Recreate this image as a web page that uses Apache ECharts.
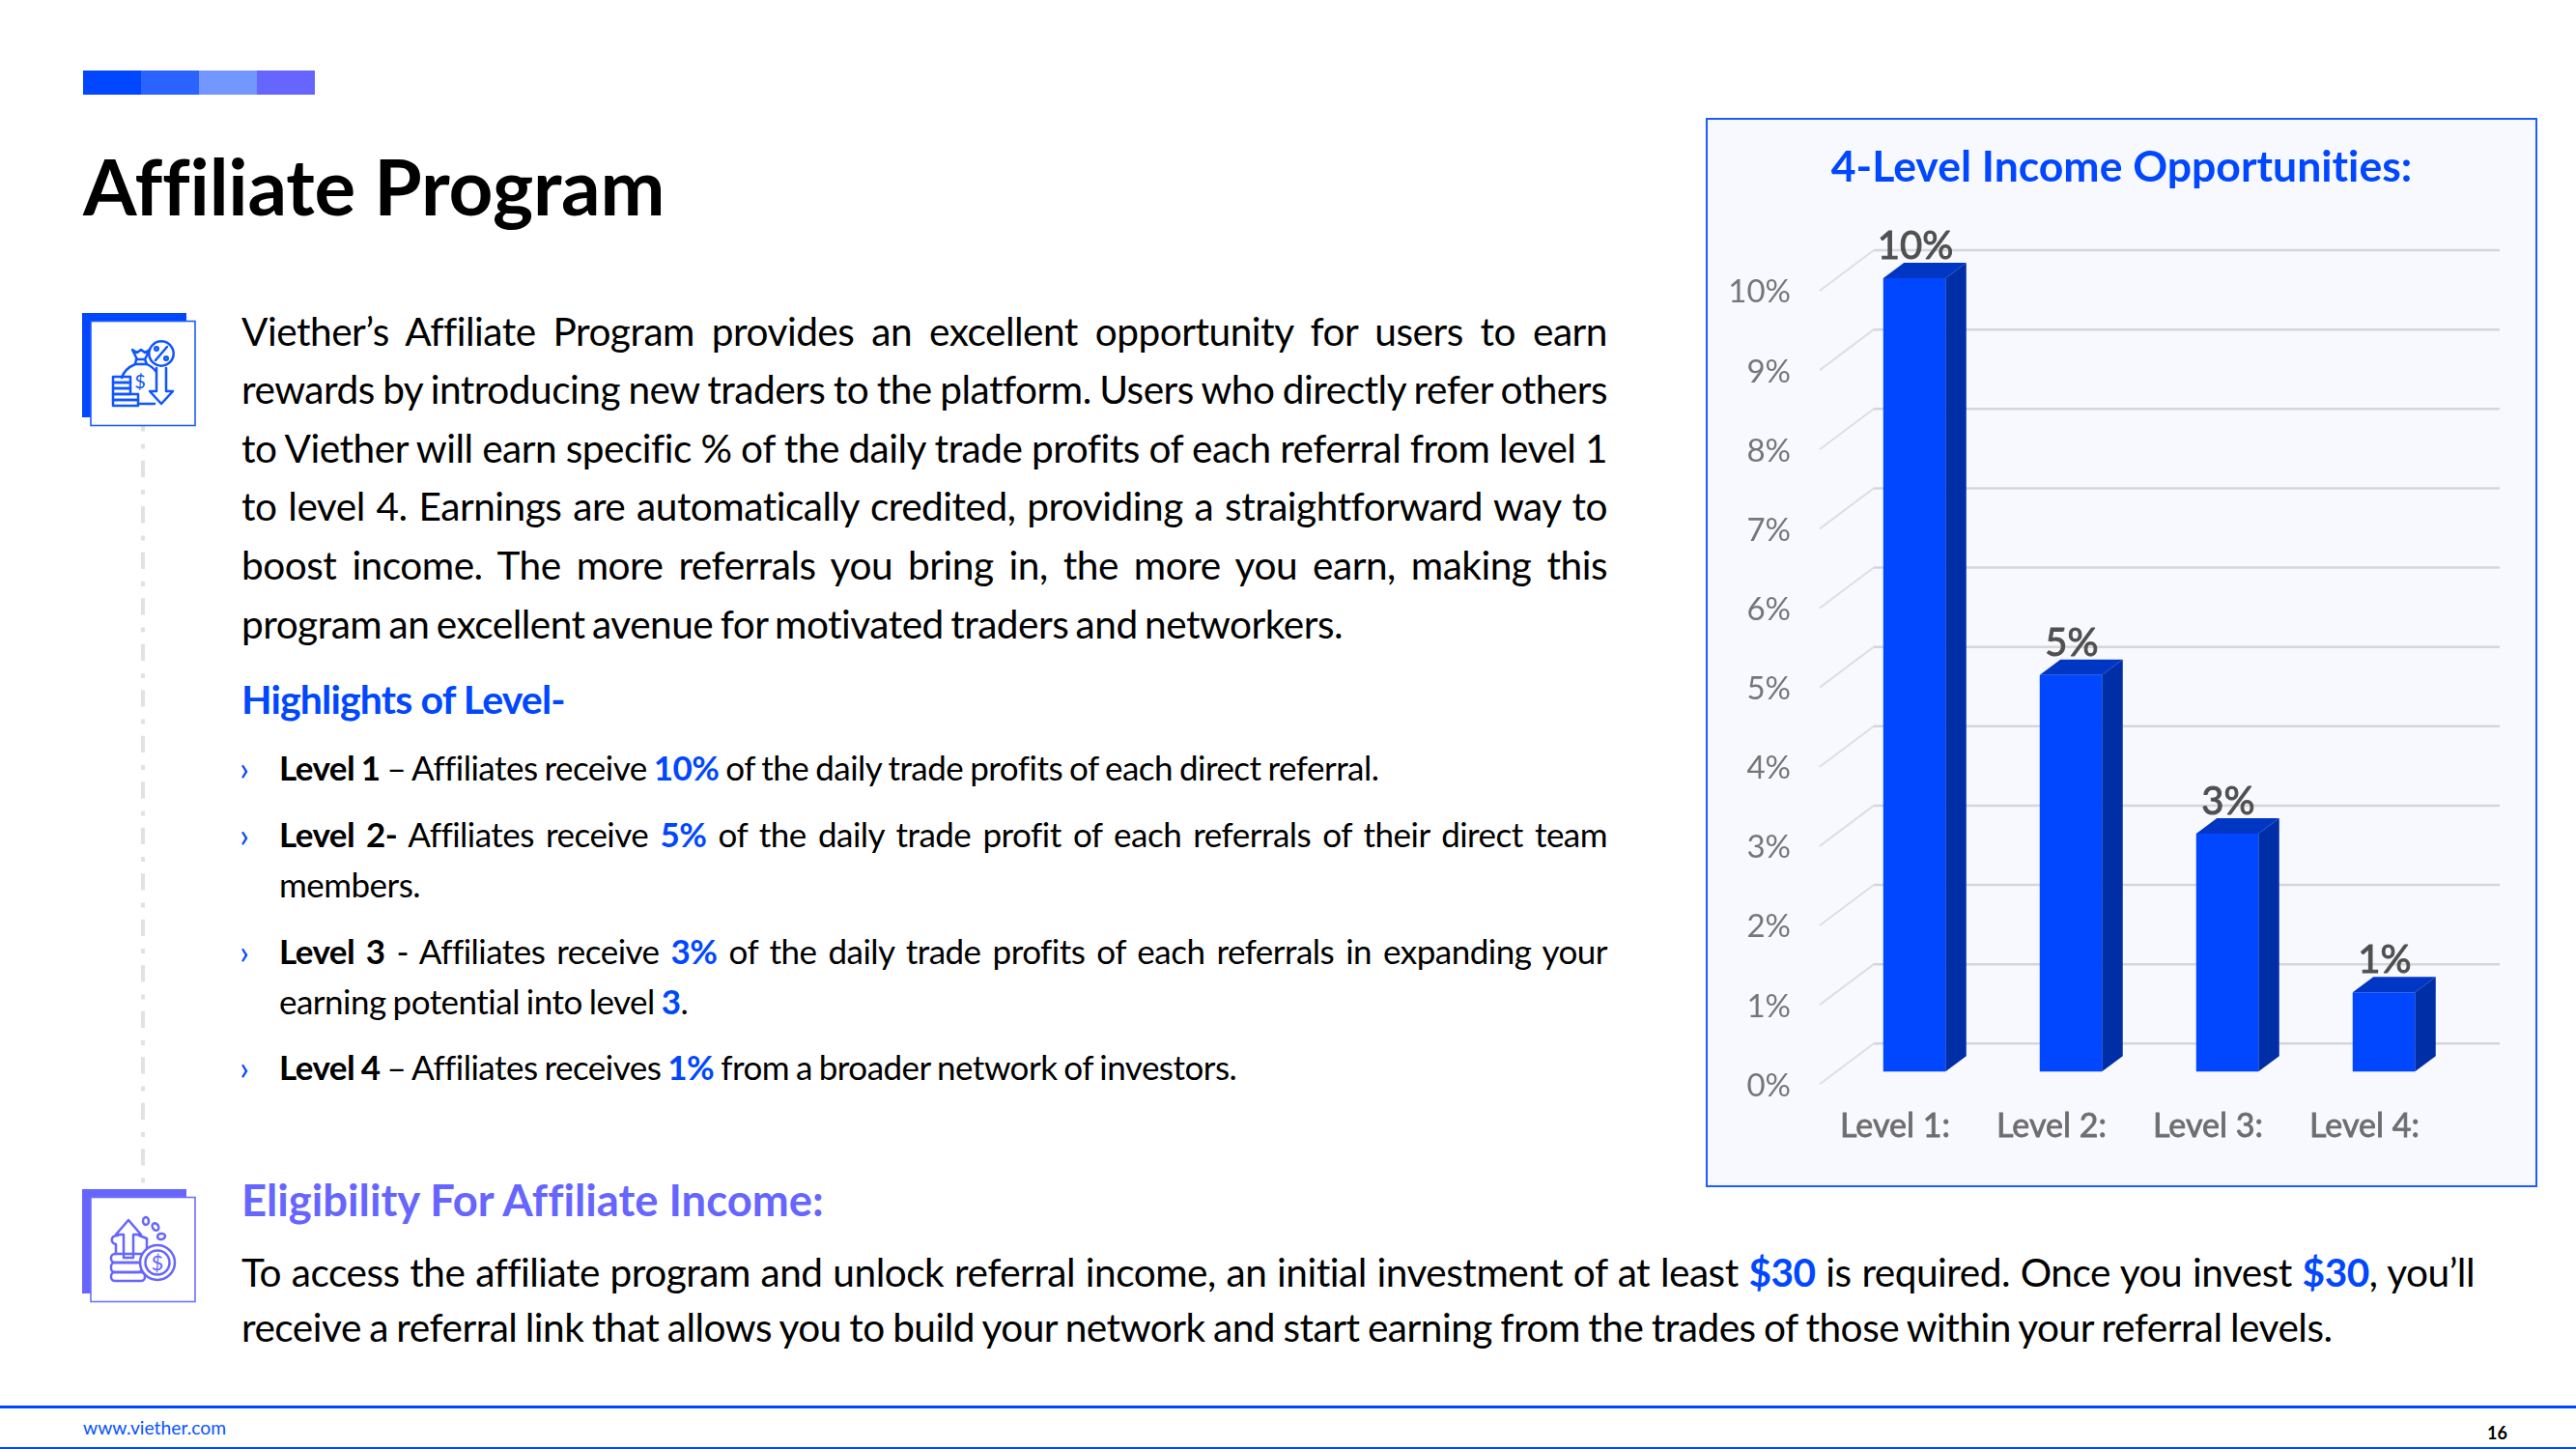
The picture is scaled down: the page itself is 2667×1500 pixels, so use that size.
<!DOCTYPE html>
<html>
<head>
<meta charset="utf-8">
<title>Affiliate Program</title>
<script src="https://cdn.jsdelivr.net/npm/echarts@6/dist/echarts.min.js"></script>
<style>
html,body{margin:0;padding:0;background:#fff;}
body{width:2667px;height:1500px;position:relative;overflow:hidden;font-family:Lato,sans-serif;color:#000;font-variant-ligatures:none;}
.abs{position:absolute;}
.line{position:absolute;white-space:nowrap;}
.body{left:250px;width:1414px;font-size:40.6px;line-height:60px;letter-spacing:-0.5px;word-spacing:-2.5px;}
.just{text-align:justify;text-align-last:justify;}
.item{left:289px;width:1375px;font-size:35px;line-height:50px;letter-spacing:-0.52px;word-spacing:-1.5px;}
.arrow{position:absolute;left:248px;font-size:35px;line-height:50px;color:#0047ff;}
.wide{left:250px;font-size:40.6px;line-height:58px;letter-spacing:-0.5px;word-spacing:-1.5px;}
b{font-weight:700;}
.hl{color:#0047ff;font-weight:700;}
#panel{position:absolute;left:1766px;top:122px;width:857px;height:1103px;border:2px solid #1f5cff;background:#f8f9ff;}
#main{position:absolute;left:1766px;top:122px;width:861px;height:1107px;}
</style>
</head>
<body>

<!-- top colour strip -->
<div class="abs" style="left:86px;top:73px;width:60px;height:25px;background:#0047ff"></div>
<div class="abs" style="left:146px;top:73px;width:60px;height:25px;background:#2a63ff"></div>
<div class="abs" style="left:206px;top:73px;width:60px;height:25px;background:#7298ff"></div>
<div class="abs" style="left:266px;top:73px;width:60px;height:25px;background:#6666ff"></div>

<div class="line" style="left:86px;top:144px;font-size:80px;line-height:96px;font-weight:700;letter-spacing:-0.2px;">Affiliate Program</div>

<!-- dashed connector and icon boxes -->
<svg class="abs" style="left:0;top:0" width="260" height="1400">
  <line x1="148" y1="429.2" x2="148" y2="1231" stroke="#e2e2e2" stroke-width="4" stroke-dasharray="17.3 13 5 12.2"/>
  <rect x="85" y="324" width="108" height="108" fill="#0047ff"/>
  <rect x="94" y="332.5" width="108" height="108" fill="#fff" stroke="#1f5cff" stroke-width="1.6"/>
  <g fill="none" stroke="#0f56ff" stroke-width="2.5" stroke-linejoin="round" stroke-linecap="round">
    <circle cx="167" cy="366" r="12.7"/>
    <path d="M161 373 L173 359"/>
    <circle cx="162" cy="361" r="1.8"/>
    <circle cx="172" cy="371" r="1.8"/>
    <path d="M137 362 L142 372 L150 372 L155 362 L150 365 L146 362 L142 365 Z"/>
    <path d="M141 372 L140 377 L152 377 L150 372"/>
    <path d="M140 377 C133 380 128 385 126 391"/>
    <path d="M152 377 C156 379 159 381 161 384"/>
    <path d="M143 418 L160 418"/>
    <rect x="117" y="390" width="18" height="6"/>
    <rect x="117" y="396" width="18" height="6"/>
    <rect x="117" y="402" width="18" height="6"/>
    <rect x="117" y="408" width="26" height="6"/>
    <rect x="117" y="414" width="26" height="6"/>
    <path d="M162 381 L162 405 L155 405 L167 418 L179 405 L172 405 L172 381"/>
  </g>
  <text x="145" y="402" text-anchor="middle" font-size="20" font-family="Lato" fill="#0f56ff">$</text>

  <rect x="85" y="1231" width="108" height="108" fill="#6666ff"/>
  <rect x="94" y="1239.5" width="108" height="108" fill="#fff" stroke="#6f6fff" stroke-width="1.6"/>
  <g fill="none" stroke="#6666ff" stroke-width="2.5" stroke-linejoin="round" stroke-linecap="round">
    <path d="M133 1263 L146 1278 L138 1278 L138 1302 L128 1302 L128 1278 L120 1278 Z"/>
    <path d="M122 1279 C114 1279 114 1287 120 1288 L120 1298"/>
    <path d="M144 1279 L152 1282 L152 1292"/>
    <rect x="115" y="1298" width="36" height="9" rx="4"/>
    <rect x="115" y="1307" width="32" height="10" rx="4"/>
    <rect x="115" y="1317" width="35" height="9" rx="4"/>
    <circle cx="163" cy="1307" r="18" fill="#fff"/>
    <circle cx="163" cy="1307" r="12.5"/>
    <ellipse cx="151" cy="1264" rx="3" ry="4"/>
    <ellipse cx="161" cy="1270" rx="3" ry="4" transform="rotate(-35 161 1270)"/>
    <ellipse cx="167" cy="1280" rx="4" ry="3" transform="rotate(-10 167 1280)"/>
  </g>
  <text x="163" y="1315" text-anchor="middle" font-size="22" font-family="Lato" fill="#6666ff">$</text>
</svg>

<!-- intro paragraph -->
<div class="line body just" style="top:313px">Viether’s Affiliate Program provides an excellent opportunity for users to earn</div>
<div class="line body just" style="top:373px">rewards by introducing new traders to the platform. Users who directly refer others</div>
<div class="line body just" style="top:434px">to Viether will earn specific % of the daily trade profits of each referral from level 1</div>
<div class="line body just" style="top:494px">to level 4. Earnings are automatically credited, providing a straightforward way to</div>
<div class="line body just" style="top:555px">boost income. The more referrals you bring in, the more you earn, making this</div>
<div class="line body" style="top:616px">program an excellent avenue for motivated traders and networkers.</div>

<div class="line" style="left:250px;top:694px;font-size:41px;line-height:60px;font-weight:700;color:#0047ff;letter-spacing:-0.85px;">Highlights of Level-</div>

<!-- level list -->
<div class="arrow" style="top:769px">›</div>
<div class="line item" style="top:769px"><b>Level 1</b> – Affiliates receive <span class="hl">10%</span> of the daily trade profits of each direct referral.</div>
<div class="arrow" style="top:838px">›</div>
<div class="line item just" style="top:838px"><b>Level 2-</b> Affiliates receive <span class="hl">5%</span> of the daily trade profit of each referrals of their direct team</div>
<div class="line item" style="top:890px">members.</div>
<div class="arrow" style="top:959px">›</div>
<div class="line item just" style="top:959px"><b>Level 3</b> - Affiliates receive <span class="hl">3%</span> of the daily trade profits of each referrals in expanding your</div>
<div class="line item" style="top:1011px">earning potential into level <span class="hl">3</span>.</div>
<div class="arrow" style="top:1079px">›</div>
<div class="line item" style="top:1079px"><b>Level 4</b> – Affiliates receives <span class="hl">1%</span> from a broader network of investors.</div>

<!-- eligibility -->
<div class="line" style="left:250px;top:1212px;font-size:45.4px;line-height:60px;font-weight:700;color:#6666ff;">Eligibility For Affiliate Income:</div>
<div class="line wide just" style="top:1287.5px;width:2312px;">To access the affiliate program and unlock referral income, an initial investment of at least <span class="hl">$30</span> is required. Once you invest <span class="hl">$30</span>, you’ll</div>
<div class="line wide" style="top:1345px">receive a referral link that allows you to build your network and start earning from the trades of those within your referral levels.</div>

<!-- footer -->
<div class="abs" style="left:0;top:1455px;width:2667px;height:3px;background:#0047ff"></div>
<div class="abs" style="left:0;top:1498px;width:2667px;height:2px;background:#0047ff"></div>
<div class="line" style="left:86px;top:1466px;font-size:19.3px;line-height:24px;color:#0a55ff;">www.viether.com</div>
<div class="line" style="left:2575px;top:1472px;font-size:18px;line-height:22px;font-weight:700;">16</div>

<!-- chart panel -->
<div id="panel"></div>
<div id="main"></div>

<script>
var levels = ['Level 1:', 'Level 2:', 'Level 3:', 'Level 4:'];
var levelValues = [10, 5, 3, 1];
var yTicks = [0, 1, 2, 3, 4, 5, 6, 7, 8, 9, 10];

var BLUE = '#0047ff';

//offsets of the fake 3d depth, bars sit in the middle of the floor
var barDepthX = 21.5, barDepthY = 16;
var floorFrontX = -17, floorFrontY = 13;
var floorBackX = 39, floorBackY = -29;

//back wall lines, one per tick
function renderWall(params, api) {
    var cs = params.coordSys;
    var y = api.coord([0, api.value(0)])[1];
    return {
        type: 'group',
        children: [{
            type: 'line',
            shape: {x1: cs.x + floorFrontX, y1: y + floorFrontY, x2: cs.x + floorBackX, y2: y + floorBackY},
            style: {stroke: '#dedede', lineWidth: 2}
        }, {
            type: 'line',
            shape: {x1: cs.x + floorBackX, y1: y + floorBackY, x2: cs.x + cs.width + floorBackX, y2: y + floorBackY},
            style: {stroke: '#d6d6d6', lineWidth: 2.5}
        }]
    };
}

//one box: side, top, front and the value on top
function renderBar(params, api) {
    var top = api.coord([api.value(0), api.value(1)]);
    var base = api.coord([api.value(0), 0]);
    var w = api.size([1, 0])[0] * 0.398;
    var l = top[0] - w / 2, r = top[0] + w / 2;
    return {
        type: 'group',
        children: [{
            type: 'polygon',
            shape: {points: [[r, top[1]], [r + barDepthX, top[1] - barDepthY], [r + barDepthX, base[1] - barDepthY], [r, base[1]]]},
            style: {fill: '#002ea6'}
        }, {
            type: 'polygon',
            shape: {points: [[l, top[1]], [l + barDepthX, top[1] - barDepthY], [r + barDepthX, top[1] - barDepthY], [r, top[1]]]},
            style: {fill: '#0036c4'}
        }, {
            type: 'rect',
            shape: {x: l, y: top[1], width: w, height: base[1] - top[1]},
            style: {fill: BLUE}
        }, {
            type: 'text',
            style: {
                x: top[0] + 1,
                y: top[1] - barDepthY + 3,
                text: api.value(1) + '%',
                fill: '#505050',
                stroke: '#505050',
                lineWidth: 1,
                align: 'center',
                verticalAlign: 'bottom',
                font: '40px Lato'
            }
        }]
    };
}

var myChart = echarts.init(document.getElementById('main'));
myChart.setOption({
    backgroundColor: 'transparent',
    animation: false,
    title: {
        text: '4-Level Income Opportunities:',
        left: 'center',
        top: 24,
        textStyle: {fontFamily: 'Lato', fontSize: 44.5, fontWeight: 700, color: BLUE}
    },
    grid: {left: 135, top: 166, width: 648, height: 821.3},
    xAxis: {
        type: 'category',
        data: levels,
        axisLine: {show: false},
        axisTick: {show: false},
        axisLabel: {
            interval: 0,
            margin: 40,
            padding: [0, 40, 0, 0],
            fontFamily: 'Lato',
            fontSize: 34,
            color: '#6e6e6e',
            textBorderColor: '#6e6e6e',
            textBorderWidth: 0.8
        }
    },
    yAxis: {
        type: 'value',
        min: 0,
        max: 10,
        interval: 1,
        axisLine: {show: false},
        axisTick: {show: false},
        splitLine: {show: false},
        axisLabel: {
            margin: 47,
            verticalAlign: 'top',
            lineHeight: 29.5,
            formatter: '{value}%',
            fontFamily: 'Lato',
            fontSize: 33,
            color: '#767676'
        }
    },
    series: [{
        type: 'custom',
        silent: true,
        z: 1,
        renderItem: renderWall,
        encode: {y: 0},
        data: yTicks.map(function (v) { return [v]; })
    }, {
        type: 'custom',
        z: 2,
        renderItem: renderBar,
        encode: {x: 0, y: 1},
        data: levelValues.map(function (v, i) { return [i, v]; })
    }]
});
</script>
</body>
</html>
